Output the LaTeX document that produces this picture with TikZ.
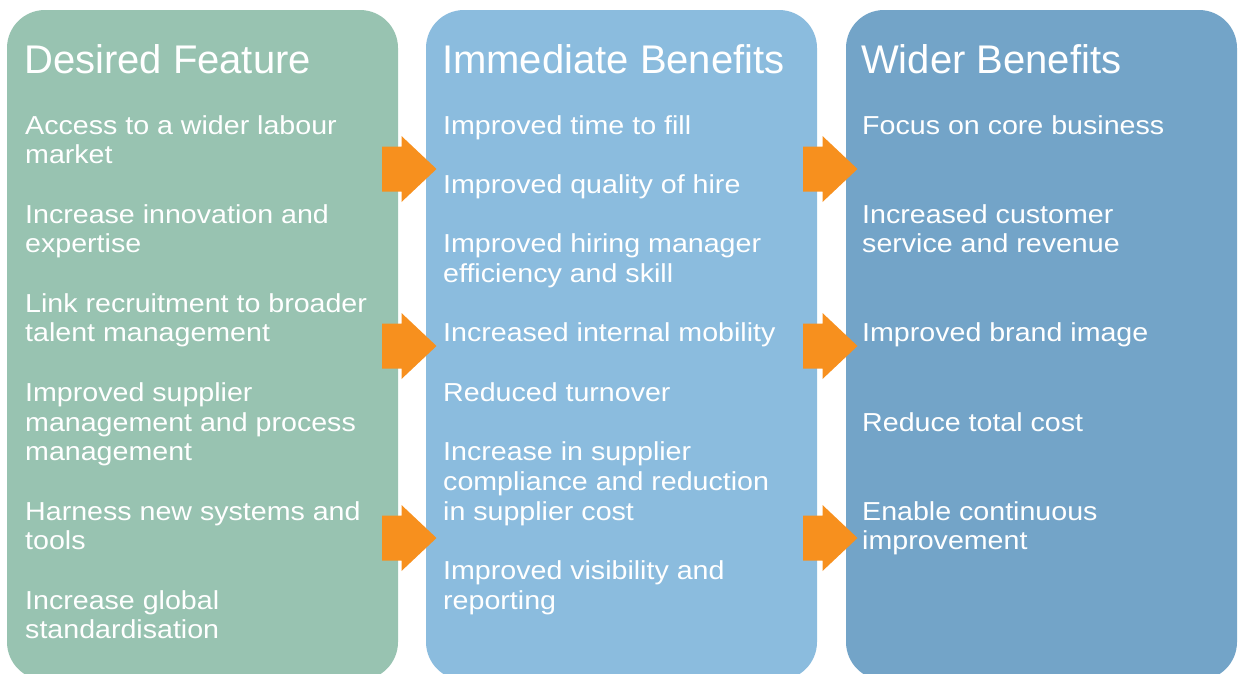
\documentclass[tikz,border=0pt]{standalone}
\usepackage{fontspec}
\setmainfont{Liberation Sans}
\newfontfamily\itemfont[FakeStretch=1.1]{Liberation Sans}
\definecolor{featgreen}{HTML}{98C3B1}
\definecolor{immblue}{HTML}{8BBCDE}
\definecolor{widblue}{HTML}{73A4C8}
\definecolor{arroworange}{HTML}{F7901E}
\begin{document}
\begin{tikzpicture}[x=1pt,y=-1pt,
  panel/.style={rounded corners=38pt},
  heading/.style={anchor=base west,inner sep=0pt,text=white,
    font=\fontsize{40}{44}\selectfont},
  % entries are placed by the baseline of their last line
  entry/.style={anchor=base west,inner sep=0pt,text=white,align=left,
    font=\itemfont\fontsize{26}{29.7}\selectfont},
  blockarrow/.pic={
    \fill[arroworange] (0,-22.5) -- (19.5,-22.5) -- (19.5,-33) -- (54.5,0)
      -- (19.5,33) -- (19.5,22.5) -- (0,22.5) -- cycle;
  }]
\useasboundingbox (0,0) rectangle (1243,673);
\clip (0,0) rectangle (1243,673);

% three column panels, running off the lower edge
\fill[panel,featgreen] (7,10) rectangle (398,680);
\fill[panel,immblue] (426,10) rectangle (817,680);
\fill[panel,widblue] (846,10) rectangle (1237,680);

% block arrows between the columns
\path (382,169) pic {blockarrow};
\path (382,346) pic {blockarrow};
\path (382,538) pic {blockarrow};
\path (803,169) pic {blockarrow};
\path (803,346) pic {blockarrow};
\path (803,538) pic {blockarrow};

% column headings
\node[heading] (tf) at (24,73) {Desired Feature};
\node[heading] (ti) at (442,73) {Immediate Benefits};
\node[heading] (tw) at (861,73) {Wider Benefits};

% desired features
\node[entry] (f1) at (25,163.7) {Access to a wider labour\\market};
\node[entry] (f2) at (25,252.8) {Increase innovation and\\expertise};
\node[entry] (f3) at (25,341.9) {Link recruitment to broader\\talent management};
\node[entry] (f4) at (25,460.7) {Improved supplier\\management and process\\management};
\node[entry] (f5) at (25,549.8) {Harness new systems and\\tools};
\node[entry] (f6) at (25,638.9) {Increase global\\standardisation};

% immediate benefits
\node[entry] (i1) at (443,134) {Improved time to fill};
\node[entry] (i2) at (443,193.4) {Improved quality of hire};
\node[entry] (i3) at (443,282.5) {Improved hiring manager\\efficiency and skill};
\node[entry] (i4) at (443,341.9) {Increased internal mobility};
\node[entry] (i5) at (443,401.3) {Reduced turnover};
\node[entry] (i6) at (443,520.1) {Increase in supplier\\compliance and reduction\\in supplier cost};
\node[entry] (i7) at (443,609.2) {Improved visibility and\\reporting};

% wider benefits
\node[entry] (w1) at (862,134) {Focus on core business};
\node[entry] (w2) at (862,252.8) {Increased customer\\service and revenue};
\node[entry] (w3) at (862,341.9) {Improved brand image};
\node[entry] (w4) at (862,431) {Reduce total cost};
\node[entry] (w5) at (862,549.8) {Enable continuous\\improvement};
\end{tikzpicture}
\end{document}
